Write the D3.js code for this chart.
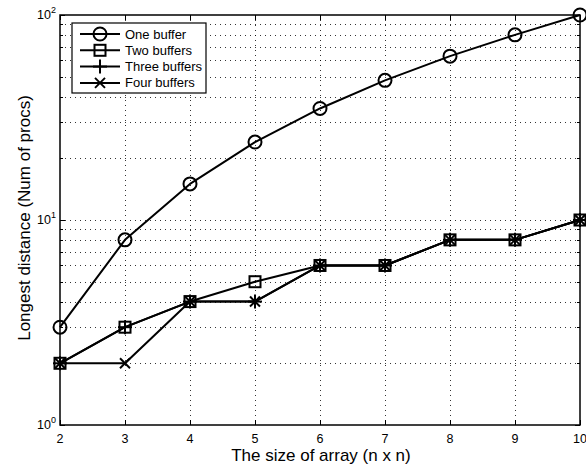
<!DOCTYPE html>
<html>
<head>
<meta charset="utf-8">
<script src="https://cdn.jsdelivr.net/npm/d3@7"></script>
<style>
  html, body { margin: 0; padding: 0; background: #fff; }
  svg { display: block; font-family: "Liberation Sans", Arial, Helvetica, sans-serif; }
</style>
</head>
<body>
<svg id="chart" width="586" height="467"></svg>
<script>
// Array sizes (n for an n x n array)
const sizes = [2, 3, 4, 5, 6, 7, 8, 9, 10];
// Longest distance in number of processors, per buffer count
const oneBuffer   = [3, 8, 15, 24, 35, 48, 63, 80, 100];
const twoBuffers  = [2, 3, 4, 5, 6, 6, 8, 8, 10];
const threeBuffers = [2, 3, 4, 4, 6, 6, 8, 8, 10];
const fourBuffers = [2, 2, 4, 4, 6, 6, 8, 8, 10];
const seriesNames = ["One buffer", "Two buffers", "Three buffers", "Four buffers"];
const markerTypes = ["circle", "square", "plus", "cross"];
const xTickLabels = ["2", "3", "4", "5", "6", "7", "8", "9", "10"];
const yDecades = [0, 1, 2];

const allSeries = [oneBuffer, twoBuffers, threeBuffers, fourBuffers];

const svg = d3.select("#chart");
const plotLeft = 60, plotRight = 580, plotTop = 15, plotBottom = 425;

const x = d3.scaleLinear().domain([2, 10]).range([plotLeft, plotRight]);
const y = d3.scaleLog().domain([1, 100]).range([plotBottom, plotTop]);

// Grid: vertical at each integer, horizontal at every log tick (1..9 per decade)
const logTicks = [];
for (let d = 0; d < 2; d++) for (let m = 1; m <= 9; m++) logTicks.push(m * Math.pow(10, d));
logTicks.push(100);

const grid = svg.append("g").attr("stroke", "#000").attr("stroke-width", 0.8)
  .attr("stroke-dasharray", "1,4");
grid.selectAll("line.v").data(sizes.slice(1, -1)).join("line")
  .attr("class", "v")
  .attr("x1", d => Math.round(x(d)) + 0.5).attr("x2", d => Math.round(x(d)) + 0.5)
  .attr("y1", plotTop).attr("y2", plotBottom);
grid.selectAll("line.h").data(logTicks.filter(v => v > 1 && v < 100)).join("line")
  .attr("class", "h")
  .attr("x1", plotLeft).attr("x2", plotRight)
  .attr("y1", d => Math.round(y(d)) + 0.5).attr("y2", d => Math.round(y(d)) + 0.5);

// Ticks pointing inward on all four sides
const ticks = svg.append("g").attr("stroke", "#000").attr("stroke-width", 1);
sizes.forEach(v => {
  const xx = Math.round(x(v)) + 0.5;
  ticks.append("line").attr("x1", xx).attr("x2", xx).attr("y1", plotBottom).attr("y2", plotBottom - 5);
  ticks.append("line").attr("x1", xx).attr("x2", xx).attr("y1", plotTop).attr("y2", plotTop + 5);
});
logTicks.forEach(v => {
  const major = yDecades.some(d => Math.pow(10, d) === v);
  const len = major ? 5 : 3;
  const yy = Math.round(y(v)) + 0.5;
  ticks.append("line").attr("x1", plotLeft).attr("x2", plotLeft + len).attr("y1", yy).attr("y2", yy);
  ticks.append("line").attr("x1", plotRight).attr("x2", plotRight - len).attr("y1", yy).attr("y2", yy);
});

// Axes box
svg.append("rect").attr("x", plotLeft).attr("y", plotTop)
  .attr("width", plotRight - plotLeft).attr("height", plotBottom - plotTop)
  .attr("fill", "none").attr("stroke", "#000").attr("stroke-width", 1.5);

// X tick labels
svg.append("g").selectAll("text").data(sizes).join("text")
  .attr("x", d => x(d)).attr("y", plotBottom + 18)
  .attr("text-anchor", "middle").attr("font-size", 12.5)
  .text((d, i) => xTickLabels[i]);

// Y tick labels (10^k)
const yl = svg.append("g").selectAll("text").data(yDecades).join("text")
  .attr("x", plotLeft - 4).attr("y", d => y(Math.pow(10, d)) + 4)
  .attr("text-anchor", "end").attr("font-size", 12.5);
yl.append("tspan").text("10");
yl.append("tspan").attr("dy", -6).attr("font-size", 9).text(d => d);

// Axis labels
svg.append("text").attr("x", 321).attr("y", 461)
  .attr("text-anchor", "middle").attr("font-size", 17).text("The size of array (n x n)");
svg.append("text").attr("transform", `translate(30,218) rotate(-90)`)
  .attr("text-anchor", "middle").attr("font-size", 17).text("Longest distance (Num of procs)");

// Marker drawing
function drawMarker(g, type, cx, cy) {
  const s = g.append("g").attr("fill", "none").attr("stroke", "#000").attr("stroke-width", 2);
  if (type === "circle") {
    s.append("circle").attr("cx", cx).attr("cy", cy).attr("r", 6.5);
  } else if (type === "square") {
    s.append("rect").attr("x", cx - 5.5).attr("y", cy - 5.5).attr("width", 11).attr("height", 11);
  } else if (type === "plus") {
    s.append("line").attr("x1", cx - 7).attr("x2", cx + 7).attr("y1", cy).attr("y2", cy);
    s.append("line").attr("x1", cx).attr("x2", cx).attr("y1", cy - 7).attr("y2", cy + 7);
  } else if (type === "cross") {
    s.append("line").attr("x1", cx - 5).attr("x2", cx + 5).attr("y1", cy - 5).attr("y2", cy + 5);
    s.append("line").attr("x1", cx - 5).attr("x2", cx + 5).attr("y1", cy + 5).attr("y2", cy - 5);
  }
}

const line = d3.line().x((d, i) => x(sizes[i])).y(d => y(d));
const plot = svg.append("g");
allSeries.forEach((vals, k) => {
  plot.append("path").datum(vals).attr("d", line)
    .attr("fill", "none").attr("stroke", "#000").attr("stroke-width", 2).attr("stroke-linejoin", "round");
  vals.forEach((v, i) => drawMarker(plot, markerTypes[k], x(sizes[i]), y(v)));
});

// Legend
const lg = svg.append("g");
lg.append("rect").attr("x", 72).attr("y", 23).attr("width", 134).attr("height", 70)
  .attr("fill", "#fff").attr("stroke", "#000").attr("stroke-width", 1.2);
seriesNames.forEach((name, k) => {
  const yy = 34 + k * 16.3;
  lg.append("line").attr("x1", 80).attr("x2", 120).attr("y1", yy).attr("y2", yy)
    .attr("stroke", "#000").attr("stroke-width", 2);
  drawMarker(lg, markerTypes[k], 100, yy);
  lg.append("text").attr("x", 125).attr("y", yy + 4.5).attr("font-size", 13).text(name);
});
</script>
</body>
</html>
